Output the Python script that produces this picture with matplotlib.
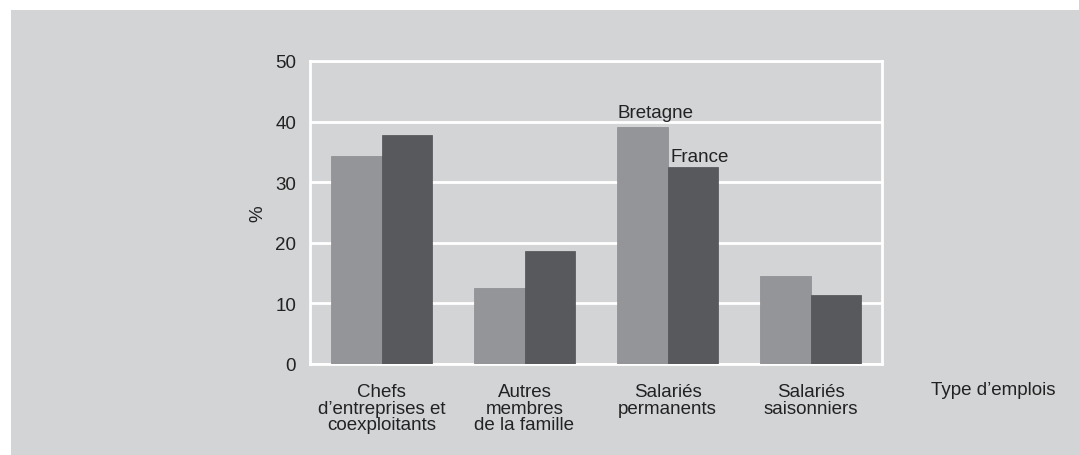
import matplotlib.pyplot as plt
import matplotlib.patches as mpatches
import numpy as np

plt.rcParams["font.family"] = ["Liberation Sans", "DejaVu Sans"]

# données
categories = [
    "Chefs\nd\u2019entreprises et\ncoexploitants",
    "Autres\nmembres\nde la famille",
    "Salariés\npermanents",
    "Salariés\nsaisonniers",
]
bretagne = [34.3, 12.5, 39.1, 14.5]
france = [37.8, 18.6, 32.5, 11.4]
yticks = [0, 10, 20, 30, 40, 50]

bg = "#d3d4d6"
col_bret = "#949598"
col_fr = "#58595d"
txt = "#222222"
fs = 13.5

fig = plt.figure(figsize=(10.79, 4.56), dpi=100)
fig.patch.set_facecolor("white")
# panneau gris
fig.patches.append(
    mpatches.Rectangle((11 / 1079, 0), 1, 445 / 456, transform=fig.transFigure,
                       facecolor=bg, edgecolor="none", zorder=-10)
)

ax = fig.add_axes([310 / 1079, 1 - 365 / 456, 572 / 1079, 303 / 456])
ax.set_facecolor(bg)

x = np.arange(len(categories))
w = 0.35
ax.bar(x - w / 2, bretagne, w, color=col_bret, edgecolor="#8a8b8e", linewidth=0.5, zorder=3)
ax.bar(x + w / 2, france, w, color=col_fr, edgecolor="#505155", linewidth=0.5, zorder=3)

ax.set_xlim(-0.5, 3.5)
ax.set_ylim(0, 50)
ax.set_yticks(yticks)
ax.yaxis.grid(True, color="white", linewidth=2, zorder=1)
ax.set_axisbelow(True)
for s in ax.spines.values():
    s.set_color("white")
    s.set_linewidth(2)

ax.set_xticks(x)
ax.set_xticklabels(categories, fontsize=fs, color=txt, linespacing=0.95)
ax.tick_params(axis="x", length=0, pad=14)
ax.tick_params(axis="y", length=0, pad=10, labelsize=fs, labelcolor=txt)
ax.set_ylabel("%", fontsize=fs, color=txt, labelpad=6)

# étiquettes des séries
ax.text(2 - w, 40.8, "Bretagne", fontsize=fs, color=txt, ha="left", va="baseline")
ax.text(2 + 0.02, 33.5, "France", fontsize=fs, color=txt, ha="left", va="baseline")

fig.text(993.5 / 1079, 1 - 391 / 456, "Type d\u2019emplois", fontsize=fs,
         color=txt, ha="center", va="center")

fig.savefig("out.png", dpi=100, facecolor=fig.get_facecolor())
